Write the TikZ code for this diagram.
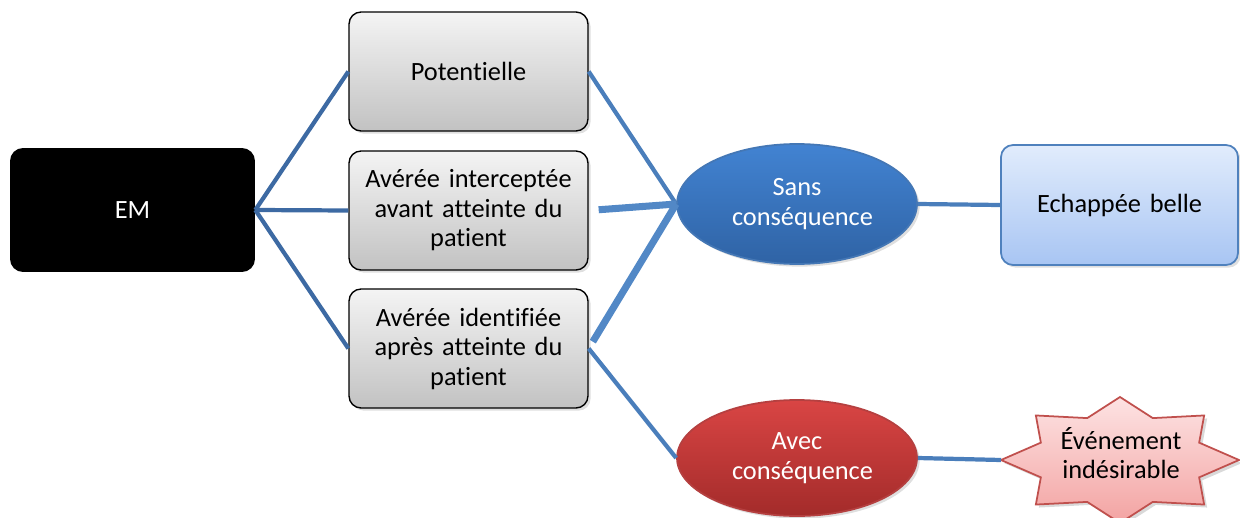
\documentclass[tikz,border=0pt]{standalone}
\usepackage{fontspec}
\setmainfont{Carlito}[Ligatures=NoCommon, WordSpace=0.62]
\usetikzlibrary{shapes.geometric,shadows}
\definecolor{lineL}{HTML}{3D6AA3}
\definecolor{lineR}{HTML}{4A7EBB}
\definecolor{lineT}{HTML}{5288C6}
\definecolor{grayTop}{HTML}{F4F4F4}
\definecolor{grayBot}{HTML}{C2C2C2}
\definecolor{blueTop}{HTML}{4283D2}
\definecolor{blueBot}{HTML}{2F63A5}
\definecolor{blueBorder}{HTML}{4477B5}
\definecolor{redTop}{HTML}{D94544}
\definecolor{redBot}{HTML}{A32B2A}
\definecolor{redBorder}{HTML}{B54040}
\definecolor{lbTop}{HTML}{E1ECFC}
\definecolor{lbBot}{HTML}{A8C5F3}
\definecolor{lbBorder}{HTML}{4F81BD}
\definecolor{stTop}{HTML}{FDE3E3}
\definecolor{stBot}{HTML}{F3A3A2}
\definecolor{stBorder}{HTML}{C0504D}
\tikzset{
  txt/.style={font=\fontsize{15}{16.8}\selectfont, align=center, text width=4.3cm},
  shade/.style={drop shadow={opacity=0.25, shadow xshift=1.5pt, shadow yshift=-1.5pt}},
  graybox/.style={txt, draw=black, line width=0.8pt, rounded corners=0.24cm,
    minimum width=4.78cm, minimum height=2.38cm, top color=grayTop, bottom color=grayBot, shade},
  embox/.style={txt, fill=black, text=white, rounded corners=0.26cm,
    minimum width=4.9cm, minimum height=2.48cm},
  ellbase/.style={txt, ellipse, line width=1pt, text=white, inner sep=0pt, text width=2.6cm,
    minimum width=4.8cm, shade},
  blueell/.style={ellbase, draw=blueBorder, minimum height=2.4cm, top color=blueTop, bottom color=blueBot},
  redell/.style={ellbase, draw=redBorder, minimum height=2.32cm, top color=redTop, bottom color=redBot},
  lbbox/.style={txt, draw=lbBorder, line width=1pt, rounded corners=0.24cm,
    minimum width=4.74cm, minimum height=2.4cm, top color=lbTop, bottom color=lbBot, shade},
  connL/.style={draw=lineL, line width=2.4pt},
  connR/.style={draw=lineR, line width=2.4pt},
  connT/.style={draw=lineT, line width=4pt},
}
\begin{document}
\begin{tikzpicture}[x=0.02cm, y=-0.02cm]
\useasboundingbox (0,0) rectangle (1240,517);
% nodes
\node[embox] (em) at (132.5,210) {EM};
\node[graybox] (pot) at (468.5,71.5) {Potentielle};
\node[graybox] (int) at (468.5,210.5) {Avérée interceptée\\avant atteinte du\\patient};
\node[graybox] (idf) at (468.5,348.5) {Avérée identifiée\\après atteinte du\\patient};
\node[blueell] (sans) at (797,204) {Sans\\conséquence};
\node[redell] (avec) at (797,458) {Avec\\conséquence};
\node[lbbox] (ech) at (1119.5,205) {Echappée belle};
% star
\fill[black, opacity=0.15, shift={(3,3)}]
  plot[samples at={0,22.5,...,337.5}] ({1120+119*(mod(round(\x/22.5),2)==0 ? 1 : 0.72)*cos(\x)}, {460-63*(mod(round(\x/22.5),2)==0 ? 1 : 0.72)*sin(\x)}) -- cycle;
\draw[draw=stBorder, line width=1pt, top color=stTop, bottom color=stBot, line join=miter]
  plot[samples at={0,22.5,...,337.5}] ({1120+119*(mod(round(\x/22.5),2)==0 ? 1 : 0.72)*cos(\x)}, {460-63*(mod(round(\x/22.5),2)==0 ? 1 : 0.72)*sin(\x)}) -- cycle;
\node[txt, text width=3cm] (ei) at (1121,453) {Événement\\indésirable};
\coordinate (eiw) at (1001,460);
% connectors
\draw[connL] (em.east) -- (pot.west);
\draw[connL] (em.east) -- (int.west);
\draw[connL] (em.east) -- (idf.west);
\draw[connR] (pot.east) -- (sans.west);
\draw[connT, shorten <=10*0.02cm] (int.east) -- (sans.west);
\draw[connT, shorten <=8*0.02cm] (idf.east) -- (sans.west);
\draw[connR] (idf.east) -- (avec.west);
\draw[connR] (sans.east) -- (ech.west);
\draw[connR] (avec.east) -- (eiw);
\end{tikzpicture}
\end{document}
